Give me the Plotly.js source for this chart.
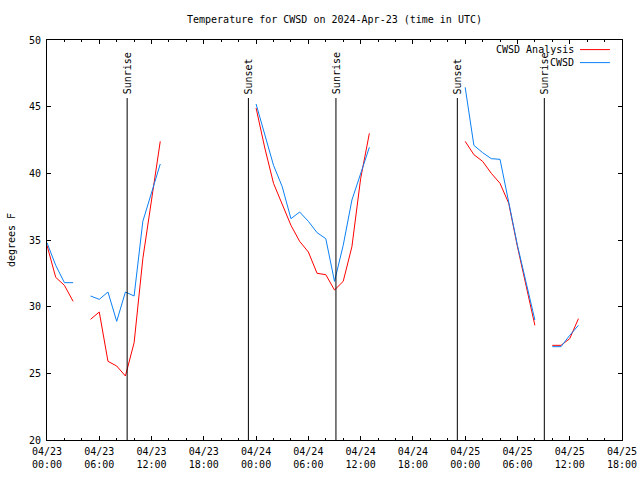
<!DOCTYPE html>
<html>
<head>
<meta charset="utf-8">
<script src="https://cdn.plot.ly/plotly-3.0.1.min.js"></script>
<style>html,body{margin:0;padding:0;background:#fff;}#chart{width:640px;height:480px;}</style>
</head>
<body>
<div id="chart"></div>
<script>
// Times (UTC); null values break the lines into segments
const times = [
  '2024-04-23 00:00','2024-04-23 01:00','2024-04-23 02:00','2024-04-23 03:00','2024-04-23 04:00',
  '2024-04-23 05:00','2024-04-23 06:00','2024-04-23 07:00','2024-04-23 08:00','2024-04-23 09:00',
  '2024-04-23 10:00','2024-04-23 11:00','2024-04-23 12:00','2024-04-23 13:00','2024-04-23 14:00',
  '2024-04-24 00:00','2024-04-24 01:00','2024-04-24 02:00','2024-04-24 03:00','2024-04-24 04:00',
  '2024-04-24 05:00','2024-04-24 06:00','2024-04-24 07:00','2024-04-24 08:00','2024-04-24 09:00',
  '2024-04-24 10:00','2024-04-24 11:00','2024-04-24 12:00','2024-04-24 13:00','2024-04-24 14:00',
  '2024-04-25 00:00','2024-04-25 01:00','2024-04-25 02:00','2024-04-25 03:00','2024-04-25 04:00',
  '2024-04-25 05:00','2024-04-25 06:00','2024-04-25 07:00','2024-04-25 08:00','2024-04-25 09:00',
  '2024-04-25 10:00','2024-04-25 11:00','2024-04-25 12:00','2024-04-25 13:00'
];
const analysisTemps = [
  34.6, 32.2, 31.6, 30.4, null,
  29.05, 29.6, 25.9, 25.55, 24.8, 27.3, 33.6, 38.2, 42.4, null,
  44.9, 41.9, 39.25, 37.6, 36.1, 34.9, 34.1, 32.5, 32.4, 31.25, 31.9, 34.5, 39.6, 43.0, null,
  42.4, 41.4, 40.9, 40.0, 39.25, 37.75, 34.5, 31.5, 28.6, null,
  27.1, 27.1, 27.6, 29.1
];
const observedTemps = [
  34.8, 33.1, 31.8, 31.8, null,
  30.8, 30.55, 31.1, 28.9, 31.1, 30.8, 36.4, 38.5, 40.7, null,
  45.2, 42.9, 40.6, 39.0, 36.6, 37.1, 36.4, 35.55, 35.1, 31.9, 34.6, 38.0, 39.9, 41.95, null,
  46.45, 42.1, 41.55, 41.1, 41.05, 37.8, 34.6, 31.8, 29.0, null,
  27.0, 27.0, 27.85, 28.6
];
const sunLabels = ['Sunrise','Sunset','Sunrise','Sunset','Sunrise'];
const sunTimes = ['2024-04-23 09:12','2024-04-23 23:07','2024-04-24 09:10','2024-04-24 23:06','2024-04-25 09:05'];
const seriesNames = ['CWSD Analysis','CWSD'];
const seriesColors = ['#ff0000','#0a80f5'];

const FONT = {family:'"DejaVu Sans Mono", "Liberation Mono", monospace', size:10, color:'#000'};

const traces = [
  {x: times, y: analysisTemps, type:'scatter', mode:'lines', name: seriesNames[0],
   line:{color: seriesColors[0], width:1}, connectgaps:false},
  {x: times, y: observedTemps, type:'scatter', mode:'lines', name: seriesNames[1],
   line:{color: seriesColors[1], width:1}, connectgaps:false}
];

const shapes = sunTimes.map(t => ({type:'line', xref:'x', yref:'paper', x0:t, x1:t, y0:0, y1:0.855,
  line:{color:'#000', width:1}}));
const annotations = sunTimes.map((t,i) => ({x:t, xref:'x', y:0.862, yref:'paper', text:sunLabels[i],
  textangle:-90, xanchor:'center', yanchor:'bottom', showarrow:false, font:FONT, borderpad:0}));

// gnuplot-style key: text right-aligned, then line sample
seriesNames.forEach((n,i) => {
  annotations.push({x:0.918, xref:'paper', y:0.976 - i*0.0325, yref:'paper', text:n, showarrow:false,
    xanchor:'right', yanchor:'middle', font:FONT, borderpad:0});
  shapes.push({type:'line', xref:'paper', yref:'paper', x0:0.927, x1:0.979,
    y0:0.976 - i*0.0325, y1:0.976 - i*0.0325, line:{color:seriesColors[i], width:1}});
});

const layout = {
  width:640, height:480,
  margin:{l:47, r:18, t:40, b:40, pad:0},
  paper_bgcolor:'#fff', plot_bgcolor:'#fff',
  showlegend:false,
  font: FONT,
  title:{text:'Temperature for CWSD on 2024-Apr-23 (time in UTC)', x:0.5, xref:'paper',
         y:1-19/480, yref:'container', yanchor:'middle', font:FONT},
  xaxis:{type:'date', range:['2024-04-23 00:00','2024-04-25 18:00'],
         dtick: 6*3600000, tick0:'2024-04-23 00:00', tickformat:'%m/%d<br>%H:%M',
         ticks:'inside', ticklen:4, tickcolor:'#000', showgrid:false, zeroline:false,
         showline:true, linecolor:'#000', linewidth:1, mirror:'ticks',
         minor:{ticks:'inside', ticklen:2, dtick:2*3600000, tickcolor:'#000', showgrid:false},
         tickfont:FONT, ticklabelstandoff:2, fixedrange:true},
  yaxis:{range:[20,50], dtick:5, ticks:'inside', ticklen:4, tickcolor:'#000',
         showgrid:false, zeroline:false, showline:true, linecolor:'#000', linewidth:1, mirror:'ticks',
         tickfont:FONT, ticklabelstandoff:3,
         title:{text:'degrees F', font:FONT, standoff:11}, fixedrange:true},
  shapes: shapes,
  annotations: annotations
};

Plotly.newPlot('chart', traces, layout, {staticPlot:true, displayModeBar:false});
</script>
</body>
</html>
